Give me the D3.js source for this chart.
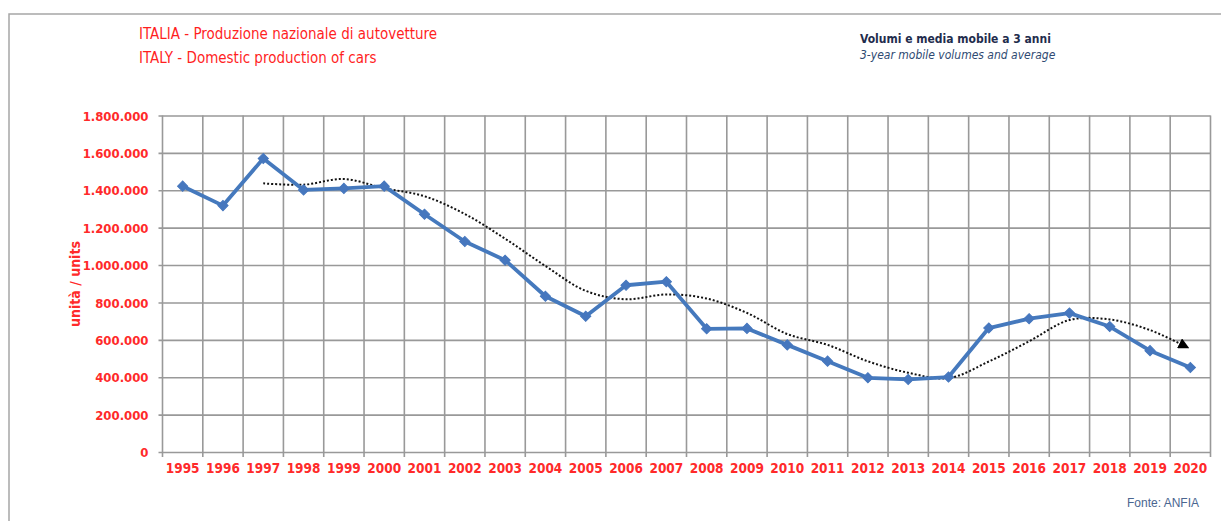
<!DOCTYPE html>
<meta charset="utf-8">
<style>
  body{ margin:0; background:#fff; }
  text{ font-family: "DejaVu Sans Condensed", "Liberation Sans Narrow", Arial, sans-serif; }
  .title{ font-size:15px; fill:#ff1f1f; }
  .tick text{ font-size:13px; font-weight:bold; fill:#ff2a2a; }
  .xlab .tick text{ font-size:13.5px; }
  .grid line{ stroke:#999; stroke-width:1.6px; }
  .sub1{ font-size:12px; font-weight:bold; fill:#1f2d4d; }
  .sub2{ font-size:12px; font-style:italic; fill:#2f4a72; }
  .fonte{ font-family: "Liberation Sans", Arial, sans-serif; font-size:12px; fill:#4a6690; }
</style>
<body>
<div id="container"></div>
<script src="https://cdnjs.cloudflare.com/ajax/libs/d3/7.8.5/d3.min.js"></script>
<script>

var years = ['1995','1996','1997','1998','1999','2000','2001','2002','2003','2004','2005','2006','2007',
             '2008','2009','2010','2011','2012','2013','2014','2015','2016','2017','2018','2019','2020'];

// production (units)
var production = [1422000,1318000,1570000,1402000,1410000,1422000,1272000,1126000,1026000,833000,726000,892000,911000,
                  659000,661000,573000,486000,397000,388000,401000,663000,713000,743000,671000,542000,452000];

// 3-year moving average (starts at 1997)
var avgYears = years.slice(2);
var movingAvg = [1437000,1430000,1460000,1411000,1368000,1273000,1141000,995000,862000,817000,843000,
                 821000,744000,631000,573000,485000,424000,395000,484000,592000,706000,709000,652000,560000];

var yTicks = [0,200000,400000,600000,800000,1000000,1200000,1400000,1600000,1800000];

var W = 1221, H = 521;
var plotL = 162.5, plotR = 1210.5, plotT = 115.5, plotB = 452;

var svg = d3.select('#container').append('svg').attr('width',W).attr('height',H);

// outer frame
svg.append('rect').attr('x',9).attr('y',14).attr('width',1300).attr('height',600)
  .attr('fill','none').attr('stroke','#a6a6a6').attr('stroke-width',1.5);

var x = d3.scaleBand().domain(years).range([plotL,plotR]);
var y = d3.scaleLinear().domain([0,1800000]).range([plotB,plotT]);

var fmt = function(v){ return d3.format(',')(v).replace(/,/g,'.'); };

// horizontal grid + y labels
var yAxis = svg.append('g').attr('class','grid tick')
  .attr('transform','translate(' + plotL + ',0)')
  .call(d3.axisLeft(y).tickValues(yTicks).tickSize(-(plotR-plotL)).tickFormat(fmt));
yAxis.select('.domain').remove();
yAxis.selectAll('.tick line').attr('x1',-4);
yAxis.selectAll('text').attr('x',-14).attr('dy','0.36em');

// vertical grid at band boundaries
var bounds = years.map(function(d){ return x(d); }).concat([plotR]);
svg.append('g').attr('class','grid').selectAll('line').data(bounds).enter().append('line')
  .attr('x1',function(d){ return d; }).attr('x2',function(d){ return d; })
  .attr('y1',plotT).attr('y2',plotB + 5);

// x labels
var xAxis = svg.append('g').attr('class','xlab')
  .attr('transform','translate(0,' + plotB + ')')
  .call(d3.axisBottom(x).tickSize(0).tickPadding(11));
xAxis.select('.domain').remove();
xAxis.selectAll('text').style('font-size','13.5px').style('font-weight','bold').attr('fill','#ff2a2a');

// moving average, dotted with arrow
svg.append('defs').append('marker')
  .attr('id','arrow').attr('viewBox','0 0 10 10').attr('refX',8).attr('refY',5)
  .attr('markerWidth',5.5).attr('markerHeight',5.5).attr('orient','auto')
  .append('path').attr('d','M0,0L10,5L0,10z').attr('fill','#000');

var cx = function(d){ return x(d) + x.bandwidth()/2; };

var avgLine = d3.line()
  .x(function(d,i){ return cx(avgYears[i]) - (i === avgYears.length-1 ? 3 : 0); })
  .y(function(d){ return y(d); })
  .curve(d3.curveCatmullRom.alpha(0.5));

svg.append('path').datum(movingAvg).attr('d',avgLine)
  .attr('fill','none').attr('stroke','#111').attr('stroke-width',2)
  .attr('stroke-dasharray','2,2').attr('marker-end','url(#arrow)');

// production line
var prodLine = d3.line()
  .x(function(d,i){ return cx(years[i]); })
  .y(function(d){ return y(d); });

svg.append('path').datum(production).attr('d',prodLine)
  .attr('fill','none').attr('stroke','#4579bd').attr('stroke-width',3.8).attr('stroke-linejoin','round');

var diamond = d3.symbol().type(d3.symbolSquare).size(52);
svg.append('g').selectAll('path').data(production).enter().append('path')
  .attr('d',diamond)
  .attr('transform',function(d,i){ return 'translate(' + cx(years[i]) + ',' + y(d) + ') rotate(45)'; })
  .attr('fill','#4677be').attr('stroke','#4677be').attr('stroke-width',1);

// titles
svg.append('text').attr('class','title').attr('x',139).attr('y',39).text('ITALIA - Produzione nazionale di autovetture');
svg.append('text').attr('class','title').attr('x',139).attr('y',63).text('ITALY - Domestic production of cars');

svg.append('text').attr('class','sub1').attr('x',860).attr('y',43).text('Volumi e media mobile a 3 anni');
svg.append('text').attr('class','sub2').attr('x',860).attr('y',59).text('3-year mobile volumes and average');

svg.append('text').attr('transform','translate(80,284) rotate(-90)')
  .attr('text-anchor','middle').attr('fill','#ff2a2a')
  .style('font-size','14px').style('font-weight','bold')
  .text('unità / units');

svg.append('text').attr('class','fonte').attr('x',1199).attr('y',507).attr('text-anchor','end').text('Fonte: ANFIA');

</script>
</body>
</html>
